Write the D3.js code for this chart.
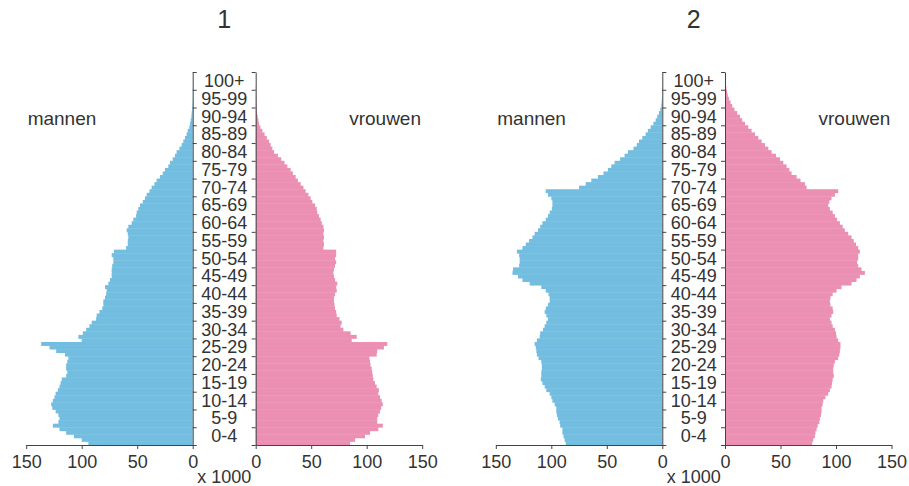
<!DOCTYPE html>
<html>
<head>
<meta charset="UTF-8">
<title></title>
<script src="https://cdn.jsdelivr.net/npm/d3@7"></script>
<style>
	body { margin: 0; background: #fff; }
	text { font-family: Arial, "Liberation Sans", sans-serif; fill: #333; }
</style>
</head>
<body>
<script>

	// age groups, bottom to top
	var ageLabels = ["0-4", "5-9", "10-14", "15-19", "20-24", "25-29", "30-34", "35-39", "40-44", "45-49",
		"50-54", "55-59", "60-64", "65-69", "70-74", "75-79", "80-84", "85-89", "90-94", "95-99", "100+"];

	var xTicks = [0, 50, 100, 150];

	// x 1000, one value per year of age 0..100
	var male1 = [94, 100, 107, 114, 120, 126, 121, 120, 121, 123.5,
		126.5, 127.5, 126, 124.5, 123.5, 121.5, 120, 119, 118, 114,
		113, 114, 114, 113, 112, 115, 123, 129, 136.5, 100,
		103, 99, 96, 93, 91, 87, 86.5, 84, 81.5, 80.5,
		80.5, 79, 78, 77.5, 79, 76, 74.5, 73, 73, 73,
		72.5, 71.5, 71.5, 73, 71, 60, 58.5, 58.5, 58, 58.5,
		59.5, 58, 55, 53.5, 51, 50.5, 49, 47.5, 45, 43,
		41.5, 39, 37, 34.5, 32.5, 29.5, 27, 25, 22, 20.5,
		18, 16, 14.5, 12, 10, 8.5, 7, 5.5, 4.5, 3,
		2.4, 1.8, 1.2, 0.9, 0.6, 0.4, 0.3, 0.2, 0.1, 0.1, 0.1];

	var female1 = [85, 89.5, 98.5, 103, 110.5, 114.5, 109.5, 109.5, 110.5, 112,
		113, 114.5, 113.5, 112, 110.5, 111, 109, 107.5, 106, 105.5,
		105, 104.5, 103.5, 103, 102.5, 109, 109.5, 115.5, 118.5, 86.5,
		91, 85.5, 79, 76.5, 77.5, 75.5, 73, 72.5, 71.5, 71,
		70.5, 70.5, 71.5, 73, 72.5, 73.5, 71.5, 70.5, 70, 70.5,
		71.5, 72.5, 71.5, 72.5, 72.5, 61, 61.5, 61, 61.5, 61,
		61.5, 61, 59.5, 58.5, 57, 55.5, 55, 53.5, 51, 49.5,
		47.5, 45, 43, 40.5, 38, 36, 33.5, 31.5, 28.5, 26,
		23, 20, 16.5, 15, 13.5, 12, 10, 8, 6, 4.2,
		3, 2.4, 1.8, 1.2, 0.9, 0.6, 0.5, 0.4, 0.3, 0.2, 0.2];

	var male2 = [87, 88, 89, 90, 90, 92, 92.5, 94, 95, 95.5,
		95.5, 97, 99, 100, 101.5, 104.5, 106, 108, 109.5, 109,
		109, 108.5, 108.5, 109, 111.5, 113, 113.5, 114, 115, 113,
		110.5, 110, 107.5, 106, 104.5, 103, 104.5, 106, 105, 103,
		101.5, 101.5, 102.5, 105, 109, 119.5, 126, 130, 135, 134.5,
		129, 128.5, 128.5, 129, 131, 126, 123, 120, 117, 115,
		112, 110, 108, 105, 103, 101.5, 99.5, 99, 99, 100,
		103, 105, 75, 69, 64, 58, 53, 49, 46, 43,
		38, 34, 31, 26, 23, 21, 18, 15, 13, 10.5,
		8, 6, 4.5, 3, 1.8, 0.9, 0.6, 0.4, 0.3, 0.2, 0.2];

	var female2 = [78.5, 79.5, 81, 81.5, 82.5, 83.5, 85, 85.5, 86.5, 87,
		87, 88, 88.5, 90.5, 93, 94.5, 96, 96.5, 97, 98,
		97.5, 97.5, 98, 99, 102, 103, 103.5, 104, 104, 102,
		100.5, 100, 99, 97, 96, 94.5, 96, 97.5, 97, 95,
		94.5, 95, 97, 100.5, 105, 114, 118.5, 121.5, 126, 123,
		120, 119, 120, 120, 121.5, 120, 118, 116, 114, 111,
		108, 106, 103.5, 101, 99, 97, 94.5, 93, 94, 96,
		99, 102, 73.5, 72, 68, 64.5, 60, 58, 55.5, 52.5,
		49.5, 46, 42, 39, 36, 33, 30, 27, 24, 21,
		18, 15.5, 13.5, 11, 8.5, 6.5, 5, 3.5, 2.5, 1.8, 1.2];

	var panels = [
		{title: "1", male: male1, female: female1, m0: 192.7, f0: 255.7},
		{title: "2", male: male2, female: female2, m0: 662.3, f0: 725}
	];

	var colors = {male: "#73bee0", female: "#eb8fb3", axis: "#444"};
	var W = 166.5; // pixels for 150 000

	var svg = d3.select('body').append("svg").attr("width", 909).attr("height", 486);

	var y = d3.scaleLinear().domain([0, 105]).range([445, 72]);

	panels.forEach(function (p) {
		var xm = d3.scaleLinear().domain([0, 150]).range([p.m0, p.m0 - W]);
		var xf = d3.scaleLinear().domain([0, 150]).range([p.f0, p.f0 + W]);
		var mid = (p.m0 + p.f0) / 2;
		var g = svg.append("g");

		g.selectAll("rect.m").data(p.male).enter().append("rect")
			.attr("class", "m")
			.attr("x", function (d) { return xm(d); })
			.attr("width", function (d) { return xm(0) - xm(d); })
			.attr("y", function (d, i) { return y(i + 1); })
			.attr("height", function (d, i) { return y(i) - y(i + 1) + 0.4; })
			.style("fill", colors.male);

		g.selectAll("rect.f").data(p.female).enter().append("rect")
			.attr("class", "f")
			.attr("x", xf(0))
			.attr("width", function (d) { return xf(d) - xf(0); })
			.attr("y", function (d, i) { return y(i + 1); })
			.attr("height", function (d, i) { return y(i) - y(i + 1) + 0.4; })
			.style("fill", colors.female);

		// bottom axes
		[xm, xf].forEach(function (x) {
			var ax = g.append("g")
				.attr("transform", "translate(0,445)")
				.call(d3.axisBottom(x).tickValues(xTicks).tickSize(4).tickSizeOuter(0).tickPadding(6));
			ax.selectAll("path, line").attr("stroke", colors.axis);
			ax.selectAll("text").style("font-size", "18px").attr("fill", "#333");
		});

		// age axes on both sides of the labels
		var ageTicks = d3.range(0, 106, 5);
		var al = g.append("g")
			.attr("transform", "translate(" + p.m0 + ",0)")
			.call(d3.axisRight(y).tickValues(ageTicks).tickSize(4).tickSizeOuter(0).tickFormat(""));
		var ar = g.append("g")
			.attr("transform", "translate(" + p.f0 + ",0)")
			.call(d3.axisLeft(y).tickValues(ageTicks).tickSize(4).tickSizeOuter(0).tickFormat(""));
		al.selectAll("path, line").attr("stroke", colors.axis);
		ar.selectAll("path, line").attr("stroke", colors.axis);

		g.selectAll("text.age").data(ageLabels).enter().append("text")
			.attr("class", "age")
			.attr("x", mid)
			.attr("y", function (d, i) { return y(i * 5 + 2.5); })
			.attr("dy", "0.34em")
			.attr("text-anchor", "middle")
			.style("font-size", "18px")
			.text(function (d) { return d; });

		g.append("text").attr("x", mid).attr("y", 483).attr("text-anchor", "middle")
			.style("font-size", "18px").text("x 1000");

		g.append("text").attr("x", mid).attr("y", 28).attr("text-anchor", "middle")
			.style("font-size", "25px").text(p.title);

		g.append("text").attr("x", p.m0 - 130.7).attr("y", 125).attr("text-anchor", "middle")
			.style("font-size", "19px").text("mannen");
		g.append("text").attr("x", p.f0 + 129.4).attr("y", 125).attr("text-anchor", "middle")
			.style("font-size", "19px").text("vrouwen");
	});

</script>
</body>
</html>
